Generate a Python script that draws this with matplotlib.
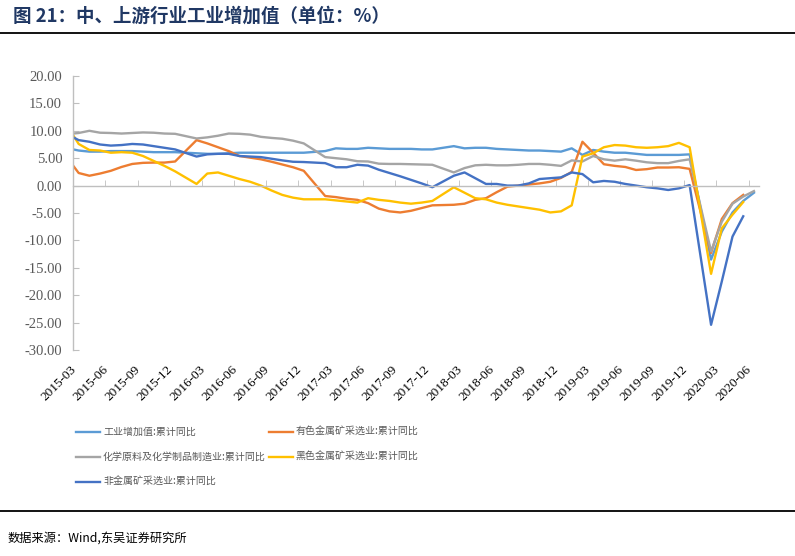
import numpy as np
import matplotlib
matplotlib.use("Agg")
import matplotlib.pyplot as plt
from matplotlib.lines import Line2D
from matplotlib.ticker import FixedLocator

plt.rcParams['axes.unicode_minus'] = False
plt.rcParams['font.family'] = ['Liberation Serif', 'DejaVu Sans']

nan = np.nan

# months 2015-02 .. 2020-06
months = []
for y in range(2015, 2021):
    for m in range(1, 13):
        if (y == 2015 and m < 2) or (y == 2020 and m > 6):
            continue
        months.append(f"{y}-{m:02d}")

industry = ([6.8] +
            [6.4, 6.2, 6.2, 6.3, 6.3, 6.3, 6.2, 6.1, 6.1, 6.1] +
            [nan, 5.9, 5.8, 5.8, 5.9, 6.0, 6.0, 6.0, 6.0, 6.0, 6.0, 6.0] +
            [nan, 6.3, 6.8, 6.7, 6.7, 6.9, 6.8, 6.7, 6.7, 6.7, 6.6, 6.6] +
            [nan, 7.2, 6.8, 6.9, 6.9, 6.7, 6.6, 6.5, 6.4, 6.4, 6.3, 6.2] +
            [6.8, 5.6, 6.5, 6.2, 6.0, 6.0, 5.8, 5.6, 5.6, 5.6, 5.6, 5.7] +
            [nan, -13.5, -8.4, -4.9, -2.8, -1.3])

nonferrous = ([4.9] +
              [2.3, 1.8, 2.2, 2.7, 3.4, 3.95, 4.15, 4.2, 4.2, 4.4] +
              [nan, 8.3, 7.7, 7.0, 6.3, 5.4, 5.1, 4.8, 4.35, 3.85, 3.35, 2.7] +
              [nan, -1.9, -2.1, -2.4, -2.6, -3.2, -4.2, -4.7, -4.9, -4.6, -4.1, -3.6] +
              [nan, -3.5, -3.3, -2.6, -2.3, -1.2, -0.2, 0.0, 0.2, 0.4, 0.7, 1.4] +
              [2.5, 8.0, 6.0, 3.9, 3.6, 3.4, 2.85, 3.0, 3.3, 3.3, 3.35, 3.05] +
              [nan, -12.3, -6.1, -3.2, -1.7, nan])

chemical = ([9.4] +
            [9.6, 10.0, 9.65, 9.6, 9.5, 9.6, 9.7, 9.65, 9.5, 9.45] +
            [nan, 8.6, 8.8, 9.1, 9.5, 9.45, 9.3, 8.9, 8.7, 8.55, 8.2, 7.7] +
            [nan, 5.2, 5.0, 4.8, 4.45, 4.4, 4.0, 3.95, 3.95, 3.9, 3.85, 3.8] +
            [nan, 2.4, 3.2, 3.7, 3.8, 3.7, 3.7, 3.8, 3.95, 3.95, 3.8, 3.6] +
            [4.6, 4.4, 5.4, 4.8, 4.55, 4.8, 4.55, 4.25, 4.1, 4.1, 4.5, 4.8] +
            [nan, -12.0, -6.6, -3.3, -2.0, -1.0])

ferrous = ([10.7] +
           [7.6, 6.5, 6.4, 6.0, 6.1, 6.0, 5.4, 4.5, 3.6, 2.6] +
           [nan, 0.3, 2.2, 2.4, 1.8, 1.2, 0.7, 0.0, -0.9, -1.7, -2.2, -2.5] +
           [nan, -2.5, -2.7, -2.9, -3.1, -2.3, -2.6, -2.8, -3.1, -3.3, -3.1, -2.8] +
           [nan, -0.3, -1.3, -2.3, -2.5, -3.1, -3.5, -3.8, -4.1, -4.4, -4.9, -4.7] +
           [-3.6, 5.3, 5.9, 7.0, 7.4, 7.3, 7.0, 6.9, 7.0, 7.2, 7.8, 7.0] +
           [nan, -16.1, -7.8, -5.3, -3.0, nan])

nonmetal = ([9.3] +
            [8.3, 8.0, 7.5, 7.3, 7.4, 7.6, 7.5, 7.2, 6.9, 6.6] +
            [nan, 5.3, 5.7, 5.8, 5.8, 5.4, 5.3, 5.2, 4.9, 4.6, 4.35, 4.3] +
            [nan, 4.1, 3.35, 3.35, 3.8, 3.65, 2.9, 2.3, 1.7, 1.05, 0.4, -0.3] +
            [nan, 1.8, 2.4, 1.35, 0.3, 0.3, 0.0, 0.0, 0.4, 1.2, 1.35, 1.5] +
            [2.4, 2.1, 0.6, 0.85, 0.7, 0.3, 0.0, -0.3, -0.5, -0.8, -0.5, 0.1] +
            [nan, -25.4, -17.5, -9.3, -5.6, nan])

series_names = ["工业增加值:累计同比", "有色金属矿采选业:累计同比",
                "化学原料及化学制品制造业:累计同比", "黑色金属矿采选业:累计同比",
                "非金属矿采选业:累计同比"]
series_vals = [industry, nonferrous, chemical, ferrous, nonmetal]
colors = ["#5B9BD5", "#ED7D31", "#A5A5A5", "#FFC000", "#4472C4"]

yticks = [20, 15, 10, 5, 0, -5, -10, -15, -20, -25, -30]
label_months = [m for m in months if m[5:] in ("03", "06", "09", "12")]

W, H = 795, 556
fig = plt.figure(figsize=(W / 100, H / 100), dpi=100)
ax = fig.add_axes([73.3 / W, 1 - 350 / H, 686 / W, 274 / H])

x = np.arange(len(months))
handles = {}
for name, vals, c in zip(series_names, series_vals, colors):
    v = np.array(vals, dtype=float)
    ok = ~np.isnan(v)
    ln, = ax.plot(x[ok], v[ok], color=c, lw=1.7, solid_joinstyle='round')
    handles[name] = ln

ax.set_xlim(0.5, len(months) - 0.5)
ax.set_ylim(-30, 20)

for s in ("right", "bottom"):
    ax.spines[s].set_visible(False)
ax.spines["left"].set_color("#BFBFBF")
ax.spines["top"].set_color("#BFBFBF")
ax.spines["top"].set_position(("data", 0))
ax.spines["left"].set_linewidth(1.0)
ax.spines["top"].set_linewidth(1.0)

ax.set_yticks(yticks, labels=[f"{v:.2f}" for v in yticks],
              fontfamily="Liberation Serif", fontsize=10.5, color="#595959")
ax.tick_params(axis="y", direction="in", length=4, color="#BFBFBF", pad=8)

lab_pos = [months.index(m) for m in label_months]
ax.set_xticks(lab_pos, labels=label_months, rotation=45, ha="right", va="top",
              fontfamily="Liberation Serif", fontsize=9.5, color="#000000")
ax.xaxis.set_minor_locator(FixedLocator([p + 2.5 for p in lab_pos[:-1]]))
ax.tick_params(axis="x", which="major", bottom=False, top=False,
               labelbottom=True, labeltop=False, pad=6)
ax.tick_params(axis="x", which="minor", bottom=False, top=True,
               direction="out", length=4, color="#BFBFBF")

# title and rules
fig.text(13 / W, 1 - 16 / H, "图 21：中、上游行业工业增加值（单位：%）",
         fontsize=13.3, fontweight="bold", color="#203864", va="center",
         family=["Noto Sans CJK SC", "DejaVu Sans"])
fig.add_artist(Line2D([0, 1], [1 - 33 / H] * 2, color="black", lw=1.3))
fig.add_artist(Line2D([0, 1], [1 - 511 / H] * 2, color="black", lw=1.3))
fig.text(8 / W, 1 - 538 / H, "数据来源：Wind,东吴证券研究所", fontsize=8.8,
         color="black", va="center", family=["Noto Sans CJK SC", "DejaVu Sans"])

order = [series_names[i] for i in (0, 2, 4, 1, 3)]
leg = fig.legend([handles[n] for n in order], order, ncol=2, loc="upper left",
                 bbox_to_anchor=(76 / W, 1 - 427 / H), frameon=False,
                 borderpad=0, borderaxespad=0, handlelength=2.4,
                 handletextpad=0.3, columnspacing=0.3, labelspacing=1.5,
                 prop={"family": "Noto Sans CJK SC", "size": 7.2},
                 labelcolor="#595959")

fig.savefig("out.png", dpi=100)
